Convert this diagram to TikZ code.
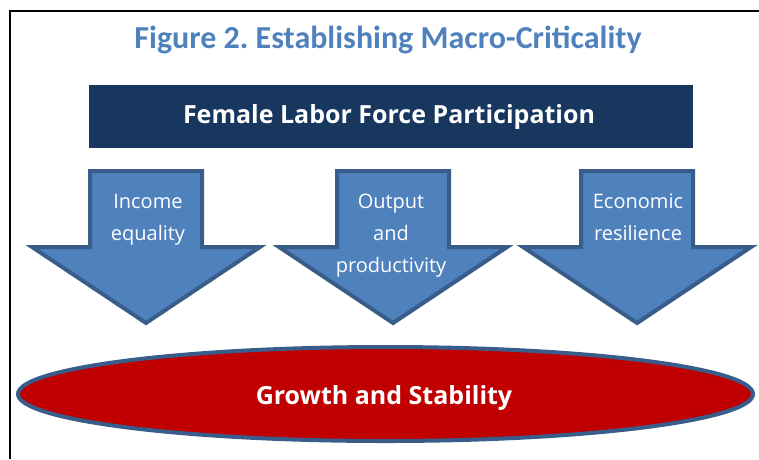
\documentclass[tikz,border=0pt]{standalone}
\usepackage{fontspec}
\setmainfont{Open Sans}
\newfontfamily\titlefont{Carlito}
\definecolor{titleblue}{RGB}{79,129,189}
\definecolor{navy}{RGB}{23,55,94}
\definecolor{arrowfill}{RGB}{79,129,189}
\definecolor{arrowline}{RGB}{56,93,138}
\definecolor{darkred}{RGB}{192,0,0}
\tikzset{
  bigarrow/.style={fill=arrowfill, draw=arrowline, line width=4pt, line join=miter},
  arrowtext/.style={text=white, font=\fontsize{20}{20}\selectfont, inner sep=0pt, anchor=base},
  boldwhite/.style={text=white, font=\bfseries\fontsize{25}{25}\selectfont, inner sep=0pt, anchor=base},
  frameline/.style={draw=black, line width=2pt}
}
\frenchspacing
\begin{document}
\begin{tikzpicture}[x=1pt,y=-1pt]
\useasboundingbox (0,0) rectangle (759,459);
% frame
\coordinate (fl) at (9.5,459);
\coordinate (fc) at (9.5,11);
\coordinate (fr) at (759,11);
\draw[frameline] (fl) -- (fc) -- (fr);
% title
\node[text=titleblue, font=\titlefont\bfseries\fontsize{32}{32}\selectfont, inner sep=0pt, anchor=base] (title) at (388,48) {Figure 2.\ Establishing Macro-Criticality};
% top box
\fill[navy] (89,85) rectangle (693,148);
\node[boldwhite] (flfp) at (389,123) {Female Labor Force Participation};
% arrows
\foreach \c/\n in {146/a1, 393/a2, 637/a3}{
  \draw[bigarrow] (\c-56,171) -- (\c+56,171) -- (\c+56,247) -- (\c+114,247) -- (\c,323) -- (\c-114,247) -- (\c-56,247) -- cycle;
}
\node[arrowtext] (t1a) at (148,208) {Income};
\node[arrowtext] (t1b) at (148,240) {equality};
\node[arrowtext] (t2a) at (391,208) {Output};
\node[arrowtext] (t2b) at (391,240) {and};
\node[arrowtext] (t2c) at (391,272) {productivity};
\node[arrowtext] (t3a) at (638,208) {Economic};
\node[arrowtext] (t3b) at (638,240) {resilience};
% ellipse
\draw[fill=darkred, draw=arrowline, line width=4pt] (385.5,394) ellipse [x radius=367.5, y radius=47];
\node[boldwhite] (gs) at (384,404) {Growth and Stability};
\end{tikzpicture}
\end{document}
